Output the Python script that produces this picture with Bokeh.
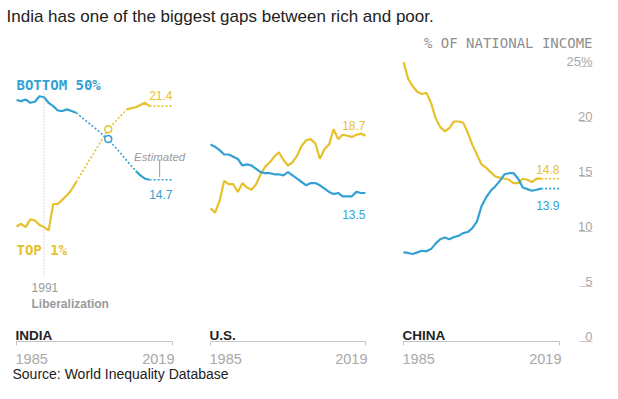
from bokeh.plotting import figure
from bokeh.models import Range1d, Label
from bokeh.embed import file_html
from bokeh.resources import INLINE
from bokeh.core.properties import value

# ---------------- data ----------------
# India (WID) - solid measured years, dotted = estimated
india_years = [1985, 1986, 1987, 1988, 1989, 1990, 1991, 1992, 1993, 1994, 1995, 1996, 1997, 1998]
india_top1 = [10.45, 10.7, 10.4, 11.1, 11.0, 10.6, 10.4, 10.1, 12.5, 12.5, 12.9, 13.3, 13.8, 14.5]
india_bottom50 = [21.95, 21.85, 22.0, 21.7, 21.8, 22.3, 22.2, 21.7, 21.4, 21.0, 20.95, 21.1, 20.95, 20.8]
india_top1_est_years = [1998, 2005, 2009]
india_top1_est = [14.5, 19.3, 21.1]
india_bottom50_est_years = [1998, 2005, 2011]
india_bottom50_est = [20.8, 18.4, 15.5]
india_top1_late_years = [2009, 2010, 2011, 2012, 2013, 2014]
india_top1_late = [21.1, 21.2, 21.3, 21.5, 21.7, 21.4]
india_bottom50_late_years = [2011, 2012, 2013, 2014]
india_bottom50_late = [15.5, 15.1, 14.8, 14.7]
india_tail_years = [2014, 2019]
india_top1_tail = [21.4, 21.4]
india_bottom50_tail = [14.7, 14.7]
india_marker_year = [2005]

us_years = list(range(1985, 2020))
us_top1 = [12.1, 11.7, 12.8, 14.6, 14.3, 14.3, 13.6, 14.4, 14.0, 13.8, 14.3, 15.2, 15.9, 16.3,
           16.8, 17.2, 16.5, 16.0, 16.3, 16.9, 17.8, 18.3, 18.4, 18.0, 16.6, 17.5, 17.9, 19.3,
           18.4, 18.8, 18.7, 18.6, 18.8, 18.9, 18.7]
us_bottom50 = [17.9, 17.7, 17.4, 17.0, 17.0, 16.8, 16.6, 16.0, 16.1, 16.0, 15.7, 15.4, 15.3, 15.3,
               15.2, 15.2, 15.1, 15.4, 15.1, 14.8, 14.5, 14.2, 14.4, 14.4, 14.2, 13.9, 13.6, 13.4,
               13.5, 13.2, 13.2, 13.2, 13.6, 13.5, 13.5]

china_years = list(range(1985, 2016))
china_top1 = [25.4, 23.9, 23.2, 22.7, 22.5, 22.6, 21.7, 20.3, 19.5, 19.1, 19.4, 20.0, 20.0, 19.9,
              19.0, 17.9, 17.0, 16.1, 15.8, 15.4, 15.0, 14.9, 14.8, 14.7, 14.4, 14.4, 14.8, 14.7,
              14.5, 14.8, 14.8]
china_bottom50 = [8.1, 8.05, 7.95, 8.1, 8.25, 8.2, 8.4, 8.9, 9.3, 9.45, 9.3, 9.5, 9.6, 9.85,
                  9.95, 10.3, 10.9, 12.3, 13.1, 13.7, 14.1, 14.6, 15.2, 15.3, 15.3, 14.8, 14.0,
                  13.85, 13.7, 13.8, 13.9]
china_tail_years = [2015, 2019]
china_top1_tail = [14.8, 14.8]
china_bottom50_tail = [13.9, 13.9]

end_labels_top1 = ["21.4", "18.7", "14.8"]
end_labels_bottom50 = ["14.7", "13.5", "13.9"]
panel_names = ["INDIA", "U.S.", "CHINA"]
axis_years = [1985, 2019]
y_ticks = [0, 5, 10, 15, 20, 25]
y_tick_labels = ["0", "5", "10", "15", "20", "25%"]

# ---------------- style ----------------
W, H = 602, 383
BLUE = "#33a1d3"
YELLOW = "#e6c12c"
SANS = value("Liberation Sans")
MONO = value("DejaVu Sans Mono")

PX_PER_UNIT = 11.0
ZERO_FY = 341.0  # frame pixel row of the 0 line


def panel_range(f0, f1):
    s = (f1 - f0) / 34.0
    start = 1985 - f0 / s
    return Range1d(start, start + W / s)


p = figure(width=W, height=H, output_backend="svg", toolbar_location=None, title=None,
           x_range=Range1d(0, W),
           y_range=Range1d(-(H - ZERO_FY) / PX_PER_UNIT, ZERO_FY / PX_PER_UNIT),
           x_axis_location=None, y_axis_location=None, min_border=0,
           outline_line_color=None, background_fill_color="white",
           border_fill_color="white")
p.grid.visible = False
p.extra_x_ranges = {"india": panel_range(16, 172), "us": panel_range(210, 365),
                    "china": panel_range(403, 559)}

SOLID = dict(line_width=2.2)
DOT = dict(line_width=1.6, line_dash="2 2")

# India
p.line(india_years, india_top1, color=YELLOW, x_range_name="india", **SOLID)
p.line(india_years, india_bottom50, color=BLUE, x_range_name="india", **SOLID)
p.line(india_top1_est_years, india_top1_est, color=YELLOW, x_range_name="india", **DOT)
p.line(india_bottom50_est_years, india_bottom50_est, color=BLUE, x_range_name="india", **DOT)
p.line(india_top1_late_years, india_top1_late, color=YELLOW, x_range_name="india", **SOLID)
p.line(india_bottom50_late_years, india_bottom50_late, color=BLUE, x_range_name="india", **SOLID)
p.line(india_tail_years, india_top1_tail, color=YELLOW, x_range_name="india", **DOT)
p.line(india_tail_years, india_bottom50_tail, color=BLUE, x_range_name="india", **DOT)
p.scatter(india_marker_year, [india_top1_est[1]], marker="circle", size=7, fill_color="white",
          line_color=YELLOW, line_width=1.5, x_range_name="india")
p.scatter(india_marker_year, [india_bottom50_est[1]], marker="circle", size=7, fill_color="white",
          line_color=BLUE, line_width=1.5, x_range_name="india")

# US
p.line(us_years, us_top1, color=YELLOW, x_range_name="us", **SOLID)
p.line(us_years, us_bottom50, color=BLUE, x_range_name="us", **SOLID)

# China
p.line(china_years, china_top1, color=YELLOW, x_range_name="china", **SOLID)
p.line(china_years, china_bottom50, color=BLUE, x_range_name="china", **SOLID)
p.line(china_tail_years, china_top1_tail, color=YELLOW, x_range_name="china", **DOT)
p.line(china_tail_years, china_bottom50_tail, color=BLUE, x_range_name="china", **DOT)

# End value labels, panel names and bracket axes
top_last = [india_top1_tail[-1], us_top1[-1], china_top1_tail[-1]]
bot_last = [india_bottom50_tail[-1], us_bottom50[-1], china_bottom50_tail[-1]]
top_off = [-11, -10, -9]
bot_off = [15, 21, 17]
for i, rn in enumerate(["india", "us", "china"]):
    p.text([2019], [top_last[i]], text=[end_labels_top1[i]], x_range_name=rn,
           text_font=SANS, text_font_size="12px", text_color=YELLOW,
           text_align="right", text_baseline="alphabetic", y_offset=top_off[i])
    p.text([2019], [bot_last[i]], text=[end_labels_bottom50[i]], x_range_name=rn,
           text_font=SANS, text_font_size="12px", text_color=BLUE,
           text_align="right", text_baseline="alphabetic", y_offset=bot_off[i])
    p.line(axis_years, [0, 0], color="#c4c4c4", line_width=1, x_range_name=rn)
    p.segment(axis_years, [0, 0], axis_years, [-0.36, -0.36], color="#c4c4c4", line_width=1,
              x_range_name=rn)
    p.text([1985], [0], text=[panel_names[i]], x_range_name=rn, text_font=SANS,
           text_font_size="13.5px", text_font_style="bold", text_color="#222222",
           text_align="left", text_baseline="alphabetic", y_offset=-6.5, x_offset=-1)
    p.text(axis_years, [0, 0], text=[str(y) for y in axis_years], x_range_name=rn,
           text_font=SANS, text_font_size="14.5px", text_color="#a8a8a8",
           text_align=["left", "right"], text_baseline="alphabetic", y_offset=17.5,
           x_offset=[-1, 2])

# India annotations
p.segment([1991], [6.0], [1991], [23.4], color="#b8b8b8", line_width=1, line_dash="1 2",
          x_range_name="india")
p.text([1991], [4.91], text=["1991"], x_range_name="india", text_font=SANS,
       text_font_size="12px", text_color="#9a9a9a", text_align="left",
       text_baseline="alphabetic", x_offset=-12.5)
p.text([1991], [3.45], text=["Liberalization"], x_range_name="india", text_font=SANS,
       text_font_size="12px", text_font_style="bold", text_color="#9a9a9a",
       text_align="left", text_baseline="alphabetic", x_offset=-12.5)
p.text([1985], [23.3], text=["BOTTOM 50%"], x_range_name="india", text_font=MONO,
       text_font_size="14px", text_font_style="bold", text_color=BLUE, text_align="left",
       text_baseline="alphabetic")
p.text([1985], [8.31], text=["TOP 1%"], x_range_name="india", text_font=MONO,
       text_font_size="14px", text_font_style="bold", text_color=YELLOW, text_align="left",
       text_baseline="alphabetic")
p.text([2016.2], [16.8], text=["Estimated"], x_range_name="india", text_font=SANS,
       text_font_size="11.5px", text_font_style="italic", text_color="#999999",
       text_align="center", text_baseline="alphabetic")
p.segment([2016.2], [14.95], [2016.2], [16.55], color="#999999", line_width=1,
          x_range_name="india")

# Right value axis
p.segment([579] * len(y_ticks), y_ticks, [592] * len(y_ticks), y_ticks,
          color="#c8c8c8", line_width=1)
p.text([592] * len(y_ticks), y_ticks, text=y_tick_labels, text_font=SANS,
       text_font_size="13px", text_color="#a8a8a8", text_align="right",
       text_baseline="alphabetic", y_offset=-5)

# Titles
p.add_layout(Label(x=6, y=H - 16, x_units="screen", y_units="screen",
                   text="India has one of the biggest gaps between rich and poor.",
                   text_font="Liberation Sans", text_font_size="17px", text_color="#222222",
                   text_baseline="alphabetic"))
p.add_layout(Label(x=592, y=H - 42, x_units="screen", y_units="screen",
                   text="% OF NATIONAL INCOME", text_font="DejaVu Sans Mono",
                   text_font_size="14px", text_color="#909090", text_align="right",
                   text_baseline="alphabetic"))
p.add_layout(Label(x=12, y=10, x_units="screen", y_units="screen",
                   text="Source: World Inequality Database", text_font="Liberation Sans",
                   text_font_size="14px", text_color="#222222", text_baseline="alphabetic"))

open("out.html", "w").write(file_html(p, INLINE))
